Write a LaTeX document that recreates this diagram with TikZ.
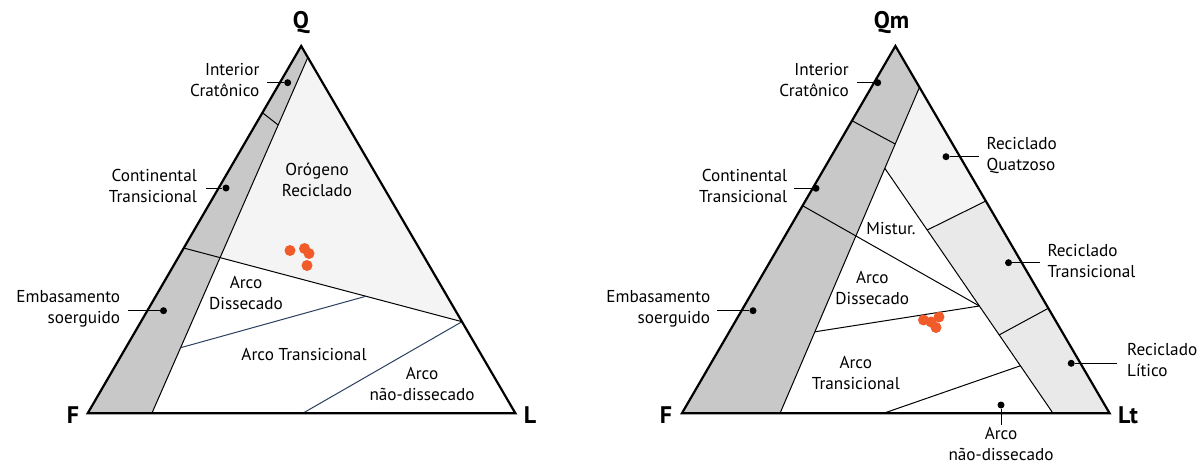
\documentclass[tikz,border=0pt]{standalone}
\usepackage{fontspec}
\setmainfont{PT Sans}
\usetikzlibrary{calc}
\definecolor{strip}{HTML}{C8C8C8}
\definecolor{pale}{HTML}{F4F4F4}
\definecolor{midgray}{HTML}{E9E9E9}
\definecolor{navy}{HTML}{2B4060}
\definecolor{dotred}{HTML}{F15A29}
\begin{document}
\begin{tikzpicture}[x=1pt,y=-1pt,
  outer/.style={line width=2.2pt, line join=miter},
  inner/.style={line width=1pt, black},
  navyline/.style={line width=1pt, navy},
  lbl/.style={font=\fontsize{17.2}{21}\selectfont, inner sep=0pt, align=center},
  lblr/.style={lbl, align=right, anchor=east},
  lbll/.style={lbl, align=left, anchor=west},
  corner/.style={font=\fontsize{24}{27}\selectfont\bfseries, inner sep=0pt},
  bdot/.style={circle, fill=black, minimum size=7pt, inner sep=0pt},
  rdot/.style={circle, fill=dotred, minimum size=11pt, inner sep=0pt},
  leader/.style={line width=1pt}
]
\useasboundingbox (0,0) rectangle (1199,463);
\fill[white] (0,0) rectangle (1199,463);

% ---------------- Left triangle ----------------
\coordinate (Q) at (301.2,46);
\coordinate (F) at (87.7,413.3);
\coordinate (L) at (515.4,413.3);
\coordinate (a1) at ($(Q)!0.031!(L)$);
\coordinate (a2) at ($(F)!0.150!(L)$);
\coordinate (a3) at ($(Q)!0.1816!(F)$);
\coordinate (a4) at ($(a1)!0.19!(a2)$);
\coordinate (a5) at ($(Q)!0.55!(F)$);
\coordinate (a6) at ($(Q)!0.7506!(L)$);
\coordinate (a7) at (intersection of a5--a6 and a1--a2);
\coordinate (a8) at ($(a1)!0.8157!(a2)$);
\coordinate (a9) at ($(a5)!0.6547!(a6)$);
\coordinate (a10) at ($(F)!0.5027!(L)$);

\fill[strip] (Q) -- (a1) -- (a2) -- (F) -- cycle;
\fill[pale] (a1) -- (a6) -- (a7) -- cycle;
\draw[inner] (a3) -- (a4);
\draw[inner] (a5) -- (a6);
\draw[inner] (a1) -- (a2);
\draw[navyline] (a8) -- (a9);
\draw[navyline] (a6) -- (a10);
\draw[outer] (Q) -- (F) -- (L) -- cycle;

\node[corner] (nQ) at (301,23) {Q};
\node[corner] (nF) at (73,415) {F};
\node[corner] (nL) at (530,415) {L};

\node[lblr] (l1) at (259.6,80.3) {Interior\\Cratônico};
\node[bdot] (d1) at (287.7,82.7) {};
\coordinate (c1) at (267,82.7);
\draw[leader] (c1) -- (d1);

\node[lblr] (l2) at (197,186) {Continental\\Transicional};
\node[bdot] (d2) at (226,188) {};
\coordinate (c2) at (205.8,188);
\draw[leader] (c2) -- (d2);

\node[lblr] (l3) at (120.4,308.5) {Embasamento\\soerguido};
\node[bdot] (d3) at (163.5,310.7) {};
\coordinate (c3) at (128,310.7);
\draw[leader] (c3) -- (d3);

\node[lbl] (l4) at (317,179.5) {Orógeno\\Reciclado};
\node[lbl] (l5) at (246,293) {Arco\\Dissecado};
\node[lbl] (l6) at (304,354) {Arco Transicional};
\node[lbl] (l7) at (422,383.5) {Arco\\não-dissecado};

\node[rdot] (r1) at (290,250.5) {};
\node[rdot] (r2) at (304.5,248.5) {};
\node[rdot] (r3) at (309,253.5) {};
\node[rdot] (r4) at (307,265.5) {};

% ---------------- Right triangle ----------------
\coordinate (R) at (895.4,46);
\coordinate (G) at (681.9,413.3);
\coordinate (T) at (1109.6,413.3);
\coordinate (b1) at ($(R)!0.1124!(T)$);
\coordinate (b2) at ($(G)!0.2294!(T)$);
\coordinate (b3) at ($(R)!0.2034!(G)$);
\coordinate (b4) at ($(b1)!0.174!(b2)$);
\coordinate (b5) at ($(R)!0.4348!(G)$);
\coordinate (b6) at ($(b1)!0.2485!(b2)$);
\coordinate (b7) at ($(G)!0.8677!(T)$);
\coordinate (b8) at ($(b6)!0.562!(b7)$);
\coordinate (b9) at ($(b6)!0.252!(b7)$);
\coordinate (b10) at ($(R)!0.422!(T)$);
\coordinate (b11) at ($(b6)!0.68!(b7)$);
\coordinate (b12) at ($(R)!0.714!(T)$);
\coordinate (b13) at ($(b1)!0.75!(b2)$);
\coordinate (b14) at ($(b6)!0.806!(b7)$);
\coordinate (b15) at ($(G)!0.4714!(T)$);

\fill[strip] (R) -- (b1) -- (b2) -- (G) -- cycle;
\fill[pale] (b6) -- (b1) -- (b10) -- (b9) -- cycle;
\fill[midgray] (b9) -- (b10) -- (T) -- (b7) -- cycle;
\draw[inner] (b3) -- (b4);
\draw[inner] (b1) -- (b2);
\draw[inner] (b5) -- (b8);
\draw[inner] (b6) -- (b7);
\draw[inner] (b9) -- (b10);
\draw[inner] (b11) -- (b12);
\draw[inner] (b13) -- (b8);
\draw[inner] (b14) -- (b15);
\draw[outer] (R) -- (G) -- (T) -- cycle;

\node[corner] (nQm) at (891.5,22.7) {Qm};
\node[corner] (nG) at (666,415) {F};
\node[corner] (nT) at (1128,415) {Lt};

\node[lblr] (m1) at (849,80.3) {Interior\\Cratônico};
\node[bdot] (e1) at (877.7,82.7) {};
\coordinate (k1) at (857,82.7);
\draw[leader] (k1) -- (e1);

\node[lbll] (m2) at (986.5,155.7) {Reciclado\\Quatzoso};
\node[bdot] (e2) at (946,156.7) {};
\coordinate (k2) at (978.8,156.7);
\draw[leader] (e2) -- (k2);

\node[lblr] (m3) at (787.3,186) {Continental\\Transicional};
\node[bdot] (e3) at (816,188.3) {};
\coordinate (k3) at (794,188.3);
\draw[leader] (k3) -- (e3);

\node[lbl] (m4) at (891,229) {Mistur.};

\node[lbll] (m5) at (1047.3,261) {Reciclado\\Transicional};
\node[bdot] (e5) at (1008.5,262.7) {};
\coordinate (k5) at (1040.4,262.7);
\draw[leader] (e5) -- (k5);

\node[lblr] (m6) at (710.4,308.5) {Embasamento\\soerguido};
\node[bdot] (e6) at (753,310.7) {};
\coordinate (k6) at (717.3,310.7);
\draw[leader] (k6) -- (e6);

\node[lbl] (m7) at (872.3,288.3) {Arco\\Dissecado};
\node[lbl] (m8) at (855.8,372.5) {Arco\\Transicional};

\node[lbll] (m9) at (1126.9,360) {Reciclado\\Lítico};
\node[bdot] (e9) at (1071.2,363.3) {};
\coordinate (k9) at (1117.3,363.3);
\draw[leader] (e9) -- (k9);

\node[lbl] (m10) at (1001,444) {Arco\\não-dissecado};
\node[bdot] (e10) at (1001,405) {};
\coordinate (k10) at (1001,425);
\draw[leader] (e10) -- (k10);

\node[rdot] (s1) at (923.5,320) {};
\node[rdot] (s2) at (939,317) {};
\node[rdot] (s3) at (936,327.5) {};
\node[rdot] (s4) at (931,322) {};
\end{tikzpicture}
\end{document}
